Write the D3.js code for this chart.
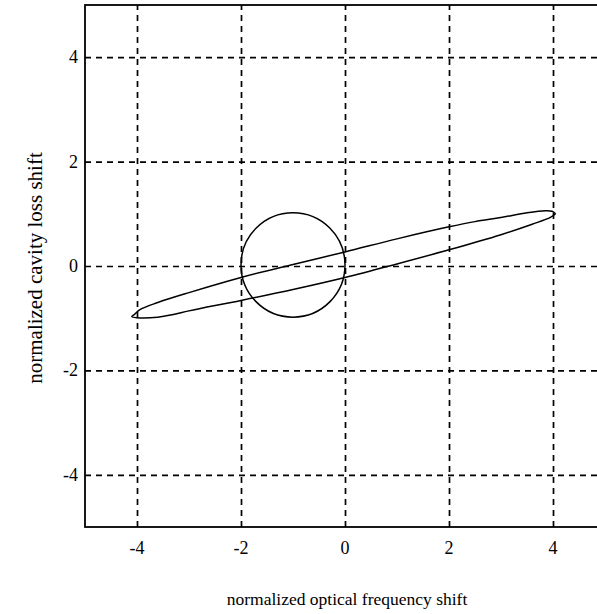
<!DOCTYPE html>
<html>
<head>
<meta charset="utf-8">
<script src="https://cdn.jsdelivr.net/npm/d3@7"></script>
<style>
  html, body { margin: 0; padding: 0; background: #fff; overflow: hidden; }
  text { font-family: "Liberation Serif", "DejaVu Serif", serif; fill: #000; }
</style>
</head>
<body>
<svg id="chart" width="597" height="614"></svg>
<script>
var xTicks =        [-4, -2, 0, 2, 4]
var yTicks =        [-4, -2, 0, 2, 4]
var xDomain =       [-5, 5]
var yDomain =       [-5, 5]
var xTitle =        'normalized optical frequency shift'
var yTitle =        'normalized cavity loss shift'

// thin tilted loop, upper branch right -> left
var loopUpper = [
    [4.05, 1.00], [3.98, 1.05], [3.85, 1.06], [3.5, 1.02], [3, 0.93], [2.5, 0.85],
    [2, 0.75], [1, 0.52], [0, 0.27], [-1, 0.03], [-2, -0.22], [-3, -0.51],
    [-3.6, -0.70], [-3.95, -0.84], [-4.05, -0.93], [-4.1, -0.97]
]
// lower branch left -> right
var loopLower = [
    [-4.0, -0.99], [-3.6, -0.98], [-3.3, -0.93], [-3, -0.86], [-2, -0.66],
    [-1, -0.45], [0, -0.22], [1, 0.04], [2, 0.31], [3, 0.60], [3.6, 0.80],
    [3.95, 0.93], [4.05, 1.00]
]
// circle: centre and radius
var circleCx =      [-1]
var circleCy =      [0.02]
var circleR =       [1]

var svg =           d3.select('#chart')
var x =             d3.scaleLinear().domain(xDomain).range([85, 605])
var y =             d3.scaleLinear().domain(yDomain).range([527, 5])

var line = d3.line()
    .x(d => x(d[0]))
    .y(d => y(d[1]))
    .curve(d3.curveCatmullRom)

// grid
svg.append('g')
    .attr('transform', 'translate(0,527)')
    .call(d3.axisBottom(x).tickValues(xTicks).tickSize(-522).tickFormat(''))
    .call(g => g.select('.domain').remove())
    .selectAll('line')
    .attr('stroke', '#000').attr('stroke-width', 1.7).attr('stroke-dasharray', '6,5')

svg.append('g')
    .attr('transform', 'translate(85,0)')
    .call(d3.axisLeft(y).tickValues(yTicks).tickSize(-520).tickFormat(''))
    .call(g => g.select('.domain').remove())
    .selectAll('line')
    .attr('stroke', '#000').attr('stroke-width', 1.7).attr('stroke-dasharray', '6,5')

// frame
svg.append('rect')
    .attr('x', x(xDomain[0])).attr('y', y(yDomain[1]))
    .attr('width', x(xDomain[1]) - x(xDomain[0]))
    .attr('height', y(yDomain[0]) - y(yDomain[1]))
    .attr('fill', 'none').attr('stroke', '#000').attr('stroke-width', 1.8)

// tick labels
svg.append('g').selectAll('text')
    .data(xTicks).enter().append('text')
    .attr('x', d => x(d)).attr('y', 554)
    .attr('text-anchor', 'middle').attr('font-size', 18)
    .text(d => d)

svg.append('g').selectAll('text')
    .data(yTicks).enter().append('text')
    .attr('x', 78).attr('y', d => y(d) + 6)
    .attr('text-anchor', 'end').attr('font-size', 18)
    .text(d => d)

// titles
svg.append('text')
    .attr('x', 347).attr('y', 605)
    .attr('text-anchor', 'middle').attr('font-size', 17.5)
    .text(xTitle)

svg.append('text')
    .attr('transform', 'translate(42,268) rotate(-90)')
    .attr('text-anchor', 'middle').attr('font-size', 21)
    .text(yTitle)

// curves
svg.append('path')
    .attr('d', line(loopUpper.concat(loopLower)))
    .attr('fill', 'none').attr('stroke', '#000').attr('stroke-width', 1.5)

svg.append('g').selectAll('ellipse')
    .data(circleCx).enter().append('ellipse')
    .attr('cx', (d, i) => x(d))
    .attr('cy', (d, i) => y(circleCy[i]))
    .attr('rx', (d, i) => x(d + circleR[i]) - x(d))
    .attr('ry', (d, i) => y(circleCy[i]) - y(circleCy[i] + circleR[i]))
    .attr('fill', 'none').attr('stroke', '#000').attr('stroke-width', 1.5)
</script>
</body>
</html>
